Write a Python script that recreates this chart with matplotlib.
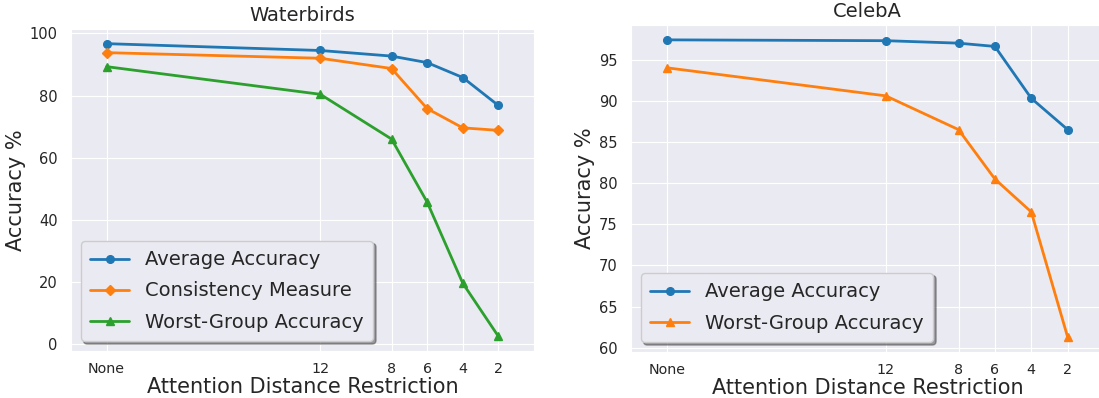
import matplotlib
matplotlib.use("Agg")
import matplotlib.pyplot as plt
import seaborn as sns

sns.set_style("darkgrid")
plt.rcParams['font.family'] = ['DejaVu Sans']

# x positions (None plotted at 24), axis reversed
x_pos = [24, 12, 8, 6, 4, 2]
x_labels = ["None", "12", "8", "6", "4", "2"]

# Waterbirds
wb_avg = [96.7, 94.5, 92.7, 90.6, 85.8, 76.8]
wb_cons = [93.8, 92.0, 88.7, 75.8, 69.6, 68.8]
wb_worst = [89.3, 80.4, 66.0, 45.7, 19.6, 2.5]

# CelebA
ca_avg = [97.4, 97.3, 97.0, 96.6, 90.3, 86.5]
ca_worst = [94.0, 90.6, 86.5, 80.5, 76.5, 61.3]

blue = '#1f77b4'
orange = '#ff7f0e'
green = '#2ca02c'

fig = plt.figure(figsize=(10.99, 3.98), dpi=100)
ax1 = fig.add_axes([0.0646, 0.1181, 0.4213, 0.809])
ax2 = fig.add_axes([0.5742, 0.1156, 0.4304, 0.8216])

ax1.plot(x_pos, wb_avg, marker='o', color=blue, lw=2, ms=5.5, label='Average Accuracy')
ax1.plot(x_pos, wb_cons, marker='D', color=orange, lw=2, ms=5.5, label='Consistency Measure')
ax1.plot(x_pos, wb_worst, marker='^', color=green, lw=2, ms=5.5, label='Worst-Group Accuracy')
ax1.set_title('Waterbirds', fontsize=14)

ax2.plot(x_pos, ca_avg, marker='o', color=blue, lw=2, ms=5.5, label='Average Accuracy')
ax2.plot(x_pos, ca_worst, marker='^', color=orange, lw=2, ms=5.5, label='Worst-Group Accuracy')
ax2.set_title('CelebA', fontsize=14)

for ax in (ax1, ax2):
    ax.set_xlim(26, 0)
    ax.set_xticks(x_pos)
    ax.set_xticklabels(x_labels)
    ax.tick_params(axis='x', labelsize=10.3, pad=4.5)
    ax.tick_params(axis='y', labelsize=10.5, pad=6)
    ax.set_xlabel('Attention Distance Restriction', fontsize=15, labelpad=1)
    ax.set_ylabel('Accuracy %', fontsize=15, labelpad=3)
    ax.legend(loc='lower left', fontsize=14, shadow=True, frameon=True,
              labelspacing=0.62, borderpad=0.5)

ax1.set_yticks([0, 20, 40, 60, 80, 100])
ax2.set_yticks([60, 65, 70, 75, 80, 85, 90, 95])

fig.savefig('out.png', dpi=100)
